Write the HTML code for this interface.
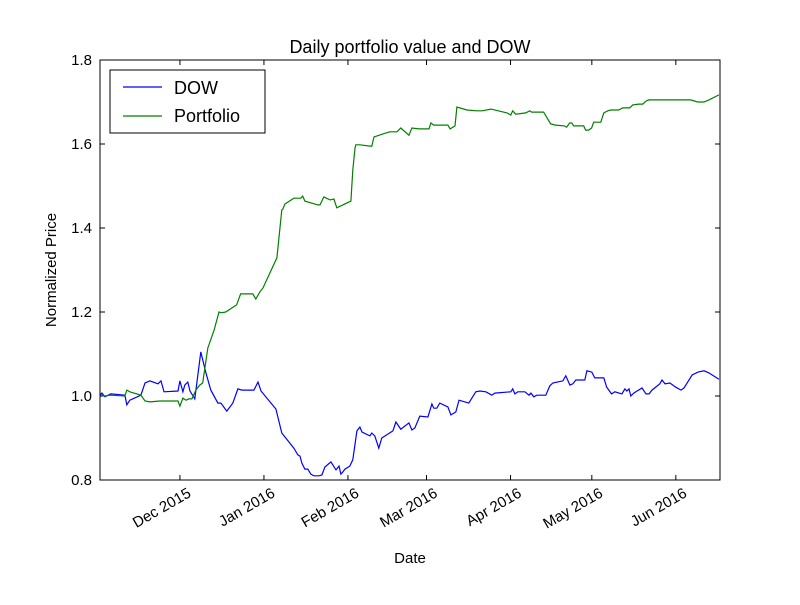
<!DOCTYPE html>
<html><head><meta charset="utf-8"><style>
body{margin:0;background:#fff;font-family:"Liberation Sans",sans-serif}
svg text{font-family:"Liberation Sans",sans-serif}
</style></head><body>
<svg id="chart" width="800" height="600">
<rect width="800" height="600" fill="#fff"/>
<text x="410" y="53" font-size="18" text-anchor="middle">Daily portfolio value and DOW</text>
<g id="plot"></g>
<rect x="100" y="60" width="620" height="420" fill="none" stroke="#000" stroke-width="1"/>
<text x="410" y="563" font-size="15" text-anchor="middle">Date</text>
<text x="56" y="270" font-size="15" text-anchor="middle" transform="rotate(-90 56 270)">Normalized Price</text>
<g>
<rect x="110" y="70" width="155" height="63" fill="#fff" stroke="#000"/>
<line x1="123" y1="87" x2="162" y2="87" stroke="#0000ff" stroke-width="1.2"/>
<text x="174" y="94" font-size="18">DOW</text>
<line x1="123" y1="116" x2="162" y2="116" stroke="#008000" stroke-width="1.2"/>
<text x="174" y="122" font-size="18">Portfolio</text>
</g>
</svg>
<script>
const xTickDays=[30,61,92,121,152,182,213];
const xTickLabels=["Dec 2015","Jan 2016","Feb 2016","Mar 2016","Apr 2016","May 2016","Jun 2016"];
const yTicks=[0.8,1.0,1.2,1.4,1.6,1.8];
const dowDays=[0.5,1.2,2.3,4.5,9.7,10.4,11.5,15.6,17.1,18.9,21.9,23,24.1,29.3,30,31.1,31.8,32.9,33.7,35.5,37.7,39.5,41.4,44,45.1,47.3,49.5,51.4,52.9,57.3,58.8,59.9,65.4,67.6,72,73.5,74.3,75,76.1,77.2,78.3,79.4,81.3,82.4,83.5,85.7,87.6,88.7,89.4,90.1,90.9,92.7,93.8,95.3,96.4,97.2,100.1,100.8,101.9,103.4,104.5,108.6,109.7,111.5,114.5,115.6,116.7,118.5,121.5,123,123.7,124.8,125.9,128.9,130,131.8,133,136.6,139.2,140.7,142.9,145.1,146.2,152.1,152.8,153.6,154.7,157.3,158.8,159.5,160.6,161.7,165,166.5,167.6,171.3,172.4,173.9,175,176.1,179.4,180.2,182,183.1,186.4,187.5,189.3,190.5,193.1,194.2,194.9,195.7,196.4,197.5,200.5,202,203.1,204.2,207.1,207.9,209,210.8,213,214.9,216,219,221.2,223.4,225.2,228.9];
const dowValues=[1.002,1.007,0.998,1.005,1.002,0.979,0.990,1.002,1.031,1.036,1.029,1.036,1.010,1.012,1.036,1.010,1.026,1.033,1.012,0.993,1.105,1.057,1.014,0.983,0.983,0.964,0.983,1.017,1.014,1.014,1.033,1.012,0.969,0.912,0.876,0.860,0.857,0.840,0.826,0.826,0.814,0.810,0.810,0.812,0.831,0.843,0.824,0.833,0.814,0.819,0.826,0.833,0.848,0.917,0.926,0.914,0.905,0.912,0.905,0.876,0.900,0.917,0.938,0.921,0.936,0.919,0.924,0.952,0.950,0.981,0.971,0.971,0.983,0.974,0.955,0.962,0.990,0.983,1.010,1.012,1.010,1.002,1.007,1.010,1.017,1.005,1.010,1.010,1.002,1.007,0.998,1.002,1.002,1.024,1.031,1.036,1.048,1.026,1.029,1.038,1.038,1.060,1.057,1.043,1.043,1.021,1.005,1.010,1.005,1.017,1.012,1.017,1.000,1.007,1.019,1.005,1.005,1.014,1.029,1.038,1.029,1.031,1.021,1.014,1.019,1.050,1.057,1.060,1.055,1.040];
const pfDays=[0.5,2.3,4.2,9.7,10.4,11.5,15.6,17.1,18.9,22.6,29.3,30,31.1,32.2,33.3,34.4,35.9,37.3,38.4,40.3,42.6,44.4,45.1,46.9,50.9,52.4,56.9,58,59.5,60.6,65.8,67.6,68,68.7,72,74.6,75.3,76.1,80.9,81.7,83.1,85.4,86.8,87.9,93.1,93.8,94.6,94.9,96.4,100.1,100.8,101.6,104.9,107.5,110.1,111.5,114.5,115.6,118.2,121.9,122.6,123.7,128.9,129.7,131.5,132.2,135.9,139.6,141.5,144.8,150.7,152.1,152.8,153.9,157.6,159.1,159.8,164.2,166.8,168.6,171.9,172.7,173.8,174.6,175.3,179,179.7,180.8,181.9,182.7,185.3,186.4,187.9,189,191.9,193.4,196,197.1,199.3,200.8,201.9,203,218.5,221.1,223.4,225.2,228.9];
const pfValues=[1.002,1.000,1.002,1.000,1.014,1.010,1.002,0.988,0.986,0.988,0.988,0.976,0.995,0.990,0.993,0.993,1.014,1.026,1.031,1.114,1.157,1.200,1.198,1.200,1.217,1.243,1.243,1.231,1.248,1.257,1.329,1.443,1.445,1.457,1.471,1.471,1.476,1.464,1.455,1.455,1.474,1.467,1.469,1.448,1.464,1.538,1.590,1.598,1.598,1.595,1.595,1.617,1.624,1.629,1.629,1.638,1.621,1.638,1.636,1.636,1.650,1.645,1.645,1.636,1.643,1.688,1.681,1.679,1.679,1.683,1.674,1.669,1.679,1.671,1.674,1.679,1.676,1.676,1.648,1.645,1.643,1.640,1.650,1.650,1.643,1.643,1.633,1.633,1.638,1.652,1.652,1.674,1.679,1.681,1.681,1.686,1.686,1.693,1.695,1.695,1.702,1.705,1.705,1.700,1.700,1.705,1.717];

const NS="http://www.w3.org/2000/svg";
const X0=100,X1=720,Y0=480,Y1=60,D0=0.5,D1=229.3,V0=0.8,V1=1.8;
function xs(d){return X0+(d-D0)/(D1-D0)*(X1-X0);}
function ys(v){return Y0-(v-V0)/(V1-V0)*(Y0-Y1);}
const plot=document.getElementById('plot');
function mk(tag,attrs){const e=document.createElementNS(NS,tag);for(const k in attrs)e.setAttribute(k,attrs[k]);plot.appendChild(e);return e;}
yTicks.forEach(v=>{
  const y=ys(v);
  const t1=mk('line',{x1:X0,x2:X0+5,y1:y,y2:y,stroke:'#000'});
  
  
  const t2=mk('line',{x1:X1-5,x2:X1,y1:y,y2:y,stroke:'#000'});
  
  
  const l=mk('text',{x:X0-8,y:y+5,'font-size':15,'text-anchor':'end'});
  l.textContent=v.toFixed(1);
  
  
});
xTickDays.forEach((d,i)=>{
  const x=xs(d);
  const t1=mk('line',{x1:x,x2:x,y1:Y0,y2:Y0-5,stroke:'#000'});
  
  
  const t2=mk('line',{x1:x,x2:x,y1:Y1,y2:Y1+5,stroke:'#000'});
  
  
  const lx=x+12, ly=Y0+16;
  const l=mk('text',{x:lx,y:ly,'font-size':15,'text-anchor':'end',transform:`rotate(-30 ${lx} ${ly})`});
  l.textContent=xTickLabels[i];
  
  
});
function line(days,vals,color,name){
  const pts=days.map((d,i)=>xs(d).toFixed(1)+','+ys(vals[i]).toFixed(1)).join(' ');
  const p=mk('polyline',{points:pts,fill:'none',stroke:color,'stroke-width':1.2});
  
  
}
line(dowDays,dowValues,'#0000ff','dow-line');
line(pfDays,pfValues,'#008000','portfolio-line');
</script>
</body></html>
